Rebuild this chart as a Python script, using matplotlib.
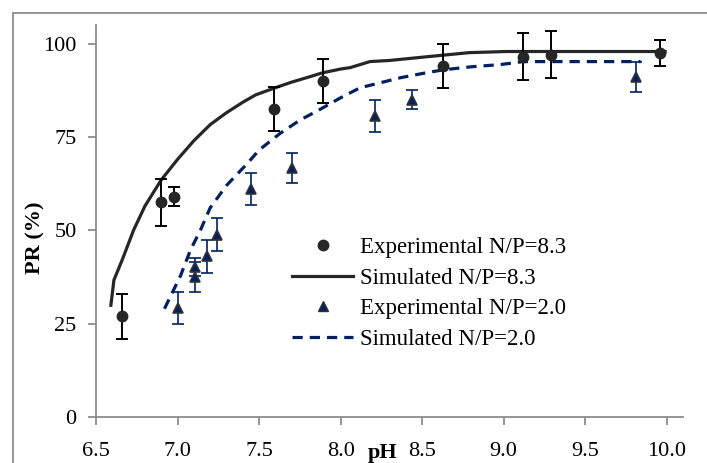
import matplotlib
matplotlib.use('Agg')
import matplotlib.pyplot as plt
from matplotlib.patches import Rectangle
from matplotlib.lines import Line2D

plt.rcParams['font.family'] = ['Liberation Serif', 'DejaVu Serif']

# experimental, N/P = 8.3
exp83_ph = [6.66, 6.90, 6.98, 7.59, 7.89, 8.63, 9.12, 9.29, 9.96]
exp83_pr = [27.0, 57.5, 59.0, 82.5, 90.0, 94.0, 96.5, 97.0, 97.6]
exp83_err = [6.0, 6.3, 2.5, 6.0, 6.0, 6.0, 6.3, 6.3, 3.5]

# experimental, N/P = 2.0
exp20_ph = [7.00, 7.11, 7.11, 7.18, 7.24, 7.45, 7.70, 8.21, 8.44, 9.81]
exp20_pr = [29.2, 40.2, 37.5, 43.0, 48.8, 61.1, 66.7, 80.7, 85.0, 91.0]
exp20_err = [4.2, 2.5, 4.0, 4.4, 4.4, 4.2, 4.0, 4.3, 2.5, 4.0]

# simulated curves
sim83_ph = [6.59, 6.61, 6.66, 6.73, 6.80, 6.90, 7.00, 7.10, 7.20, 7.30, 7.40, 7.48,
            7.60, 7.70, 7.80, 7.89, 8.00, 8.06, 8.18, 8.30, 8.53, 8.79, 9.02, 10.00]
sim83_pr = [29.5, 36.7, 42.0, 50.0, 56.5, 63.5, 69.0, 74.0, 78.3, 81.5, 84.3, 86.3,
            88.2, 89.7, 91.0, 92.2, 93.2, 93.6, 95.2, 95.5, 96.5, 97.6, 97.9, 97.9]
sim20_ph = [6.92, 6.97, 7.02, 7.08, 7.14, 7.20, 7.30, 7.43, 7.50, 7.63, 7.75, 7.87,
            8.00, 8.12, 8.25, 8.37, 8.50, 8.63, 8.80, 8.98, 9.12, 9.84]
sim20_pr = [29.0, 33.5, 38.0, 44.8, 50.0, 56.0, 62.0, 68.0, 71.5, 76.0, 79.5, 82.3,
            85.5, 88.2, 89.6, 90.9, 92.0, 93.0, 93.8, 94.4, 95.2, 95.2]

navy = '#002060'
grey = '#8c8c8c'

fig = plt.figure(figsize=(7.07, 4.63), dpi=100)
ax = fig.add_axes([96 / 707, 46 / 463, (683 - 96) / 707, (417 - 25) / 463])

# outer chart border, cropped at right and bottom
fig.patches.append(Rectangle((13 / 707, -0.1), 1.2, (463 - 13) / 463 + 0.1,
                             transform=fig.transFigure, fill=False,
                             edgecolor=grey, linewidth=1.3))

ax.plot(sim83_ph, sim83_pr, color='#262626', lw=2.3, solid_capstyle='butt')
ax.plot(sim20_ph, sim20_pr, color=navy, lw=2.3, dashes=(3.2, 2.2))

ax.errorbar(exp83_ph, exp83_pr, yerr=exp83_err, fmt='o', color='#262626',
            ecolor='black', elinewidth=1.4, capsize=4.5, capthick=1.4, markersize=7.5)
ax.errorbar(exp20_ph, exp20_pr, yerr=exp20_err, fmt='^', mfc=navy, mec='#333333',
            mew=1.2, ecolor=navy, elinewidth=1.2, capsize=4.5, capthick=1.2,
            markersize=7)

ax.set_xlim(6.5, 10.1)
ax.set_ylim(0, 105)
ax.set_xticks([6.5, 7.0, 7.5, 8.0, 8.5, 9.0, 9.5, 10.0])
ax.set_xticklabels(['6.5', '7.0', '7.5', '8.0', '8.5', '9.0', '9.5', '10.0'])
ax.set_yticks([0, 25, 50, 75, 100])

for s in ['top', 'right']:
    ax.spines[s].set_visible(False)
for s in ['left', 'bottom']:
    ax.spines[s].set_color(grey)
    ax.spines[s].set_linewidth(1.3)
ax.tick_params(direction='out', length=6, width=1.3, color=grey, labelsize=16)
ax.tick_params(axis='y', pad=8)
ax.tick_params(axis='x', pad=12)

fig.text(35 / 707, 1 - 238 / 463, 'PR (%)', rotation=90, fontsize=16,
         fontweight='bold', ha='center', va='center')
fig.text(383 / 707, 0.0, 'pH', fontsize=16, fontweight='bold',
         ha='center', va='bottom')

handles = [
    Line2D([], [], ls='none', marker='o', color='#262626', markersize=7.5),
    Line2D([], [], color='#262626', lw=2.3),
    Line2D([], [], ls='none', marker='^', mfc=navy, mec='#333333', markersize=7),
    Line2D([], [], color=navy, lw=2.3, dashes=(3.2, 2.2)),
]
labels = ['Experimental N/P=8.3', 'Simulated N/P=8.3',
          'Experimental N/P=2.0', 'Simulated N/P=2.0']
ax.legend(handles, labels, loc='upper left', bbox_to_anchor=(283 / 707, 1 - 228 / 463),
          bbox_transform=fig.transFigure, frameon=False, fontsize=16.5,
          handlelength=2.67, handletextpad=0.3, labelspacing=0.41, borderaxespad=0)

fig.savefig('out.png', dpi=100)
